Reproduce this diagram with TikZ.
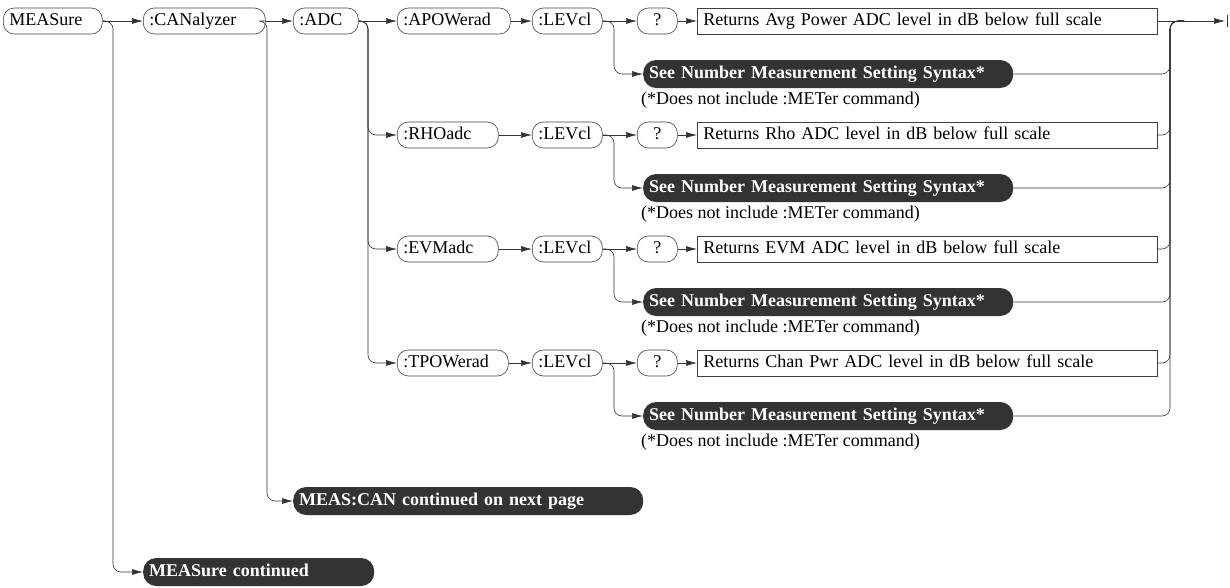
\documentclass[tikz,border=0pt]{standalone}
\usepackage{fontspec}
\setmainfont{Liberation Serif}
\usetikzlibrary{arrows.meta}
\begin{document}
\begin{tikzpicture}[x=1pt,y=-1pt,
  every node/.style={font=\fontsize{18}{20}\selectfont},
  line/.style={draw=black!80, line width=0.6pt},
  arr/.style={line, -{Latex[length=11pt,width=6pt]}},
  box/.style={draw=black!75, line width=0.6pt, rounded corners=11pt, minimum height=26pt,
    inner xsep=6pt, inner ysep=0pt, anchor=west, align=left, text height=12pt, text depth=4pt},
  qbox/.style={box, align=center},
  retbox/.style={box, rounded corners=0pt},
  pill/.style={fill=black!80, text=white, rounded corners=13pt, minimum height=28pt,
    inner xsep=6pt, inner ysep=0pt, anchor=west, align=left, text height=12pt, text depth=4pt,
    font=\fontsize{18}{20}\selectfont\bfseries},
  note/.style={anchor=west, inner sep=0pt}
]
\useasboundingbox (0,0) rectangle (1230,587);

% top row
\node[box, text width=87pt] (meas) at (3,21) {MEASure};
\node[box, text width=110pt] (can) at (143,21) {:CANalyzer};
\node[box, text width=53pt] (adc) at (293,21) {:ADC};

% row 1
\node[box, text width=101pt] (s1) at (397,21) {:APOWerad};
\node[box, text width=58pt] (l1) at (532,21) {:LEVcl};
\node[qbox, text width=28pt] (q1) at (637,21) {?};
\node[retbox, text width=448pt] (r1) at (697,21) {Returns Avg Power ADC level in dB below full scale};
\node[pill, text width=358pt] (p1) at (643,74) {See Number Measurement Setting Syntax*};
\node[note] (n1) at (641,100) {(*Does not include :METer command)};

% row 2
\node[box, text width=89pt] (s2) at (397,135) {:RHOadc};
\node[box, text width=58pt] (l2) at (532,135) {:LEVcl};
\node[qbox, text width=28pt] (q2) at (637,135) {?};
\node[retbox, text width=448pt] (r2) at (697,135) {Returns Rho ADC level in dB below full scale};
\node[pill, text width=358pt] (p2) at (643,188) {See Number Measurement Setting Syntax*};
\node[note] (n2) at (641,214) {(*Does not include :METer command)};

% row 3
\node[box, text width=89pt] (s3) at (397,249) {:EVMadc};
\node[box, text width=58pt] (l3) at (532,249) {:LEVcl};
\node[qbox, text width=28pt] (q3) at (637,249) {?};
\node[retbox, text width=448pt] (r3) at (697,249) {Returns EVM ADC level in dB below full scale};
\node[pill, text width=358pt] (p3) at (643,302) {See Number Measurement Setting Syntax*};
\node[note] (n3) at (641,328) {(*Does not include :METer command)};

% row 4
\node[box, text width=99pt] (s4) at (397,363) {:TPOWerad};
\node[box, text width=58pt] (l4) at (532,363) {:LEVcl};
\node[qbox, text width=28pt] (q4) at (637,363) {?};
\node[retbox, text width=448pt] (r4) at (697,363) {Returns Chan Pwr ADC level in dB below full scale};
\node[pill, text width=358pt] (p4) at (643,416) {See Number Measurement Setting Syntax*};
\node[note] (n4) at (641,442) {(*Does not include :METer command)};

% continuation pills
\node[pill, text width=338pt] (mcan) at (293,501) {MEAS:CAN continued on next page};
\node[pill, text width=219pt] (mcont) at (143,572) {MEASure continued};

% left connectors
\draw[arr] (meas.east) -- (can.west);
\draw[arr, rounded corners=8pt] (meas.east) -| ([xshift=-30pt]mcont.west) -- (mcont.west);
\draw[arr] (can.east) -- (adc.west);
\draw[arr, rounded corners=8pt] (can.east) -| ([xshift=-26pt]mcan.west) -- (mcan.west);
\draw[arr] (adc.east) -- (s1.west);
\foreach \s in {s2,s3,s4}{
  \draw[arr, rounded corners=8pt] (adc.east) -| ([xshift=-29pt]\s.west) -- (\s.west);
}
\foreach \i in {1,2,3,4}{
  \draw[arr] (s\i.east) -- (l\i.west);
  \draw[arr] (l\i.east) -- (q\i.west);
  \draw[arr] (q\i.east) -- (r\i.west);
  \draw[arr, rounded corners=8pt] (l\i.east) -| ([xshift=-29pt]p\i.west) -- (p\i.west);
}

% right merge
\coordinate (vtop) at (1170,21);
\coordinate (endc) at (1225,21);
\draw[arr] (r1.east) -- (endc);
\foreach \k in {p1,r2,p2,r3,p3,r4,p4}{
  \draw[line, rounded corners=8pt] (\k.east) -| (vtop) -- ++(14,0);
}
\draw[line] ([xshift=2pt]endc) ++(0,-6) -- ++(0,12);
\end{tikzpicture}
\end{document}
